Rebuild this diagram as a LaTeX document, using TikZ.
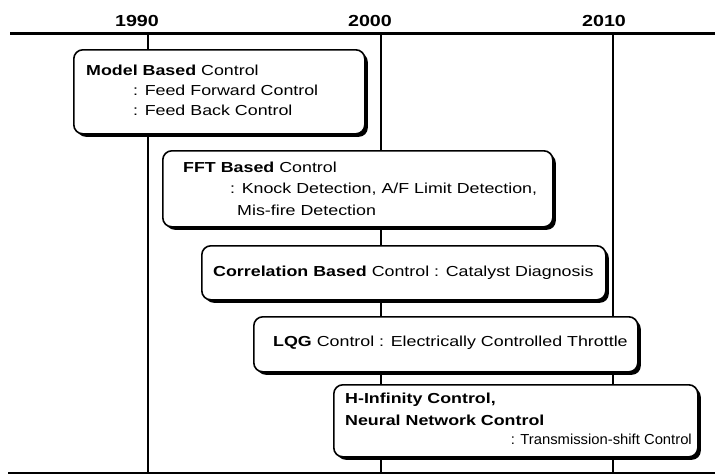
\documentclass[tikz,border=0pt]{standalone}
\usepackage{fontspec}
\setmainfont[FakeStretch=1.23]{Liberation Sans}
\usetikzlibrary{shadows}
\tikzset{
  axisline/.style={line width=3pt},
  gridline/.style={line width=1.8pt},
  evbox/.style={draw, line width=1.6pt, rounded corners=9pt, fill=white,
    drop shadow={fill=black, opacity=1, shadow xshift=3pt, shadow yshift=-3pt},
    inner sep=0pt, anchor=north west},
  txt/.style={anchor=west, inner sep=0pt, font=\fontsize{14.5}{17}\selectfont},
  txtr/.style={anchor=east, inner sep=0pt, font=\fontsize{14.5}{17}\selectfont},
  year/.style={inner sep=0pt, font=\fontsize{16}{18}\selectfont\bfseries}
}
\begin{document}
\begin{tikzpicture}[x=1pt,y=-1pt]
\useasboundingbox (0,0) rectangle (715,475);
% axes
\coordinate (tl) at (10,33);
\coordinate (tr) at (715,33);
\coordinate (bl) at (8,473);
\coordinate (br) at (715,473);
\coordinate (a1) at (148,33);  \coordinate (b1) at (148,473);
\coordinate (a2) at (381,33);  \coordinate (b2) at (381,473);
\coordinate (a3) at (613,33);  \coordinate (b3) at (613,473);
\draw[gridline] (a1) -- (b1);
\draw[gridline] (a2) -- (b2);
\draw[gridline] (a3) -- (b3);
\draw[axisline] (tl) -- (tr);
\draw[line width=2pt] (bl) -- (br);
\node[year] (y1990) at (137,21) {1990};
\node[year] (y2000) at (370,21) {2000};
\node[year] (y2010) at (604,21) {2010};
% boxes
\node[evbox, minimum width=291pt, minimum height=84pt] (box1) at (73,49) {};
\node[evbox, minimum width=390pt, minimum height=76pt] (box2) at (162,150) {};
\node[evbox, minimum width=404pt, minimum height=54pt] (box3) at (201,245) {};
\node[evbox, minimum width=384pt, minimum height=55pt] (box4) at (253,316) {};
\node[evbox, minimum width=364pt, minimum height=72pt] (box5) at (333,384) {};
% texts
\node[txt] (t11) at (86,70) {\textbf{Model Based} Control};
\node[txt] (t12) at (133,90) {: Feed Forward Control};
\node[txt] (t13) at (133,110) {: Feed Back Control};
\node[txt] (t21) at (183,167) {\textbf{FFT Based} Control};
\node[txt] (t22) at (230,189) {: Knock Detection, A/F Limit Detection,};
\node[txt] (t23) at (237,210) {Mis-fire Detection};
\node[txt] (t31) at (213,273) {\textbf{Correlation Based} Control : Catalyst Diagnosis};
\node[txt] (t41) at (273,343) {\textbf{LQG} Control : Electrically Controlled Throttle};
\node[txt] (t51) at (345,400) {\textbf{H-Infinity Control,}};
\node[txt] (t52) at (345,420) {\textbf{Neural Network Control}};
\node[txtr] (t53) at (692,439) {\scalebox{0.83}[1]{: Transmission-shift Control}};
\end{tikzpicture}
\end{document}
